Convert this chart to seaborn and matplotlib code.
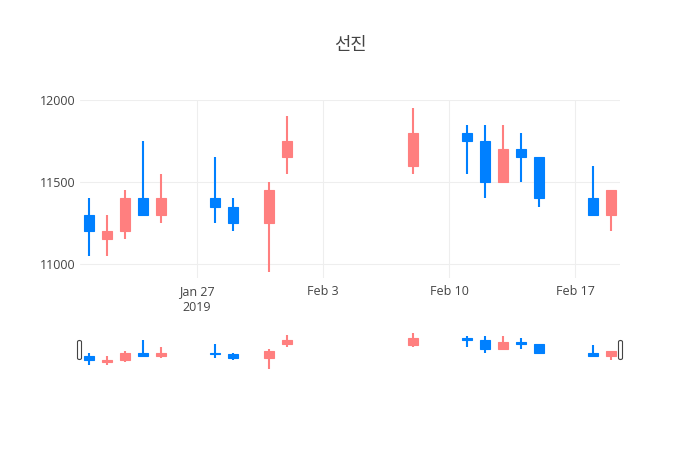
import numpy as np
import pandas as pd
import matplotlib
matplotlib.use("Agg")
import matplotlib.pyplot as plt
import matplotlib.dates as mdates
from matplotlib.patches import FancyBboxPatch
import seaborn as sns

# ---- data ----
dates = ['2019-01-21', '2019-01-22', '2019-01-23', '2019-01-24', '2019-01-25',
         '2019-01-28', '2019-01-29', '2019-01-31', '2019-02-01', '2019-02-08',
         '2019-02-11', '2019-02-12', '2019-02-13', '2019-02-14', '2019-02-15',
         '2019-02-18', '2019-02-19']
opens = [11300, 11150, 11200, 11400, 11300, 11400, 11350, 11250, 11650, 11600,
         11800, 11750, 11500, 11700, 11650, 11400, 11300]
highs = [11400, 11300, 11450, 11750, 11550, 11650, 11400, 11500, 11900, 11950,
         11850, 11850, 11850, 11800, 11650, 11600, 11450]
lows = [11050, 11050, 11150, 11300, 11250, 11250, 11200, 10950, 11550, 11550,
        11550, 11400, 11500, 11500, 11350, 11300, 11200]
closes = [11200, 11200, 11400, 11300, 11400, 11350, 11250, 11450, 11750, 11800,
          11750, 11500, 11700, 11650, 11400, 11300, 11450]
title = "선진"
xtick_dates = ['2019-01-27', '2019-02-03', '2019-02-10', '2019-02-17']
xtick_labels = ['Jan 27\n2019', 'Feb 3', 'Feb 10', 'Feb 17']
ytick_values = [11000, 11500, 12000]

UP = "#FF7F7F"
DOWN = "#0080FF"
TXT = "#444444"

df = pd.DataFrame({"date": pd.to_datetime(dates), "open": opens, "high": highs,
                   "low": lows, "close": closes})
df["x"] = mdates.date2num(df["date"])
df["color"] = np.where(df["close"] >= df["open"], UP, DOWN)
df["bottom"] = df[["open", "close"]].min(axis=1)
df["height"] = (df["open"] - df["close"]).abs()

sns.set_theme(style="white")
plt.rcParams['font.family'] = ['Open Sans', 'DejaVu Sans']

fig = plt.figure(figsize=(7, 4.5), dpi=100)
W, H = 700, 450
ax = fig.add_axes([80 / W, 1 - 278 / H, 540 / W, 178 / H])
axs = fig.add_axes([80 / W, 1 - 370 / H, 540 / W, 39 / H])

xmin = mdates.date2num(pd.Timestamp('2019-01-21')) - 0.5
xmax = mdates.date2num(pd.Timestamp('2019-02-19')) + 0.5
ymin, ymax = 10915, 12000
body_w = 0.6

for a in (ax, axs):
    a.vlines(df["x"], df["low"], df["high"], colors=df["color"], lw=1.5, zorder=2)
    a.bar(df["x"], df["height"].where(df["height"] > 0, 1), bottom=df["bottom"],
          width=body_w, color=df["color"], edgecolor=df["color"], lw=0.8, zorder=3)
    a.set_xlim(xmin, xmax)
    a.set_ylim(ymin, ymax)
    for s in a.spines.values():
        s.set_visible(False)

# main axis styling
ax.set_xticks(mdates.date2num(pd.to_datetime(xtick_dates)))
ax.set_xticklabels(xtick_labels, fontsize=9, color=TXT, linespacing=1.3)
ax.set_yticks(ytick_values)
ax.set_yticklabels([str(v) for v in ytick_values], fontsize=9, color=TXT)
ax.tick_params(axis='x', length=0, pad=5)
ax.tick_params(axis='y', length=0, pad=3)
ax.grid(True, color="#eeeeee", lw=0.75)
ax.set_axisbelow(True)

axs.set_xticks([])
axs.set_yticks([])
axs.set_facecolor("white")

# range slider grab handles
for xc in (79.5 / W, 620.5 / W):
    fig.patches.append(FancyBboxPatch((xc - 2 / W, 1 - 359.5 / H),
                                      4 / W, 19 / H,
                                      boxstyle="round,pad=0,rounding_size=0.003",
                                      transform=fig.transFigure, facecolor="white",
                                      edgecolor="#444444", lw=0.8, zorder=5))

fig.text(350 / W, 1 - 45 / H, title, ha="center", va="center", fontsize=12.75,
         color=TXT, family=['Noto Sans CJK KR', 'DejaVu Sans'])

fig.savefig("out.png", dpi=100, facecolor="white")
